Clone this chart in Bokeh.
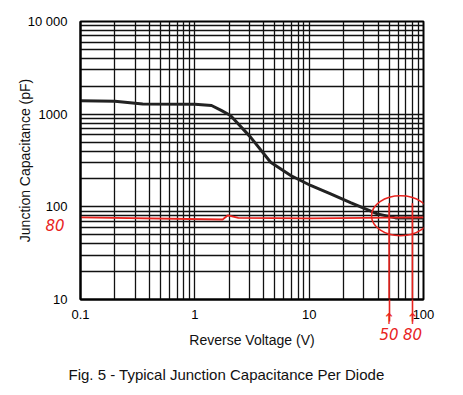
from bokeh.plotting import figure
from bokeh.models import (FixedTicker, CustomJSTickFormatter, LogAxis, Title)
from bokeh.embed import file_html
from bokeh.resources import INLINE

# ---- data -------------------------------------------------------------
x_ticks = [0.1, 1, 10, 100]
y_ticks = [10, 100, 1000, 10000]
x_tick_labels = ["0.1", "1", "10", "100"]
y_tick_labels = ["10", "100", "1000", "10 000"]

voltage = [0.1, 0.2, 0.35, 1.0, 1.4, 1.7, 2.05, 3.07, 4.6, 6.9, 10.3, 15.4, 23, 39.5, 57, 100]
capacitance = [1400, 1380, 1290, 1280, 1240, 1100, 968, 565, 303, 218, 170, 138, 111, 84, 76, 76]

# hand-drawn red annotation
mark_x = [0.1, 1.75, 1.95, 2.4, 10, 100]
mark_y = [77, 73, 81, 76, 75, 77]
mark_level = 80
mark_label_at = [63]          # where the hand-written "80" sits on the y scale
mark_volts = [50, 80]
mark_texts = ["50", "80"]
mark_top = 109                # top of the hand-drawn vertical strokes

title_text = "Fig. 5 - Typical Junction Capacitance Per Diode"
x_label = "Reverse Voltage (V)"
y_label = "Junction Capacitance (pF)"

FONT = "Liberation Sans"
HAND = "DejaVu Sans"
RED = "#e8231e"

p = figure(width=463, height=395, x_axis_type="log", y_axis_type="log",
           x_range=(0.1, 100), y_range=(10, 10000),
           output_backend="svg", toolbar_location=None,
           min_border_left=80, min_border_right=40,
           min_border_top=21, min_border_bottom=96)

def minors(ticks):
    out = []
    for t in ticks[:-1]:
        out += [t * k for k in range(2, 10)]
    return out

fmt_code = """
  for (let i = 0; i < t.length; i++) { if (Math.abs(tick - t[i]) < 1e-9 * t[i]) return l[i]; }
  return '';"""

def fmt(ticks, labels):
    return CustomJSTickFormatter(args=dict(t=ticks, l=labels), code=fmt_code)

p.xaxis.ticker = FixedTicker(ticks=x_ticks, minor_ticks=minors(x_ticks))
p.yaxis.ticker = FixedTicker(ticks=y_ticks, minor_ticks=minors(y_ticks))
p.xaxis.formatter = fmt(x_ticks, x_tick_labels)
p.yaxis.formatter = fmt(y_ticks, y_tick_labels)

for ax in (p.xaxis, p.yaxis):
    ax.major_tick_line_color = None
    ax.minor_tick_line_color = None
    ax.axis_line_color = "black"
    ax.axis_line_width = 2
    ax.major_label_text_font = FONT
    ax.major_label_text_font_size = "13px"
    ax.major_label_text_color = "black"
p.xaxis.major_label_standoff = 4
p.yaxis.major_label_standoff = 7

def style_label(ax, text, standoff):
    ax.axis_label = text
    ax.axis_label_text_font = FONT
    ax.axis_label_text_font_size = "14px"
    ax.axis_label_text_font_style = "normal"
    ax.axis_label_text_color = "#111"
    ax.axis_label_standoff = standoff

style_label(p.yaxis[0], y_label, -8)

def red_axis(ticks, labels, standoff, size="15px"):
    ax = LogAxis(ticker=FixedTicker(ticks=ticks, minor_ticks=[]),
                 formatter=fmt(ticks, labels))
    ax.axis_line_color = None
    ax.major_tick_line_color = None
    ax.minor_tick_line_color = None
    ax.major_label_text_color = RED
    ax.major_label_text_font = HAND
    ax.major_label_text_font_size = size
    ax.major_label_text_font_style = "italic"
    ax.major_label_standoff = standoff
    return ax

# arrow heads below the frame (red strokes reach up to the frame)
arrow_ax = red_axis(mark_volts, ["↑", "↑"], -12)
arrow_ax.major_label_text_font_style = "normal"
arrow_ax.major_tick_line_color = RED
arrow_ax.major_tick_line_width = 1.6
arrow_ax.major_tick_in = 22
arrow_ax.major_tick_out = 0
p.add_layout(arrow_ax, "below")

# hand-written voltages + the real axis title
volt_ax = red_axis(mark_volts, mark_texts, -9)
style_label(volt_ax, x_label, -11)
p.add_layout(volt_ax, "below")

# hand-written "80" on the left, pulled in next to the tick labels
level_ax = red_axis(mark_label_at, [str(mark_level)], -57)
p.add_layout(level_ax, "left")

for g in (p.xgrid, p.ygrid):
    g.grid_line_color = "#111"
    g.grid_line_width = 1.3
    g.grid_line_alpha = 1
    g.minor_grid_line_color = "#111"
    g.minor_grid_line_width = 1.3
    g.minor_grid_line_alpha = 1

p.outline_line_color = "black"
p.outline_line_width = 2
p.background_fill_color = "white"
p.border_fill_color = "white"

p.line(voltage, capacitance, line_color="#222222", line_width=3)

# red annotations inside the frame
p.line(mark_x, mark_y, line_color=RED, line_width=1.8)
p.ellipse(x=[63], y=[mark_level], width=58, height=40,
          width_units="screen", height_units="screen",
          fill_color=None, line_color=RED, line_width=1.5)
p.segment(x0=mark_volts, y0=[10] * len(mark_volts), x1=mark_volts,
          y1=[mark_top] * len(mark_volts), line_color=RED, line_width=1.6)

# caption below the chart
p.add_layout(Title(text=title_text, text_font=FONT, text_font_size="15px",
                   text_font_style="normal", text_color="#111", align="left",
                   offset=-12, standoff=26), "below")

open("out.html", "w").write(file_html(p, INLINE))
